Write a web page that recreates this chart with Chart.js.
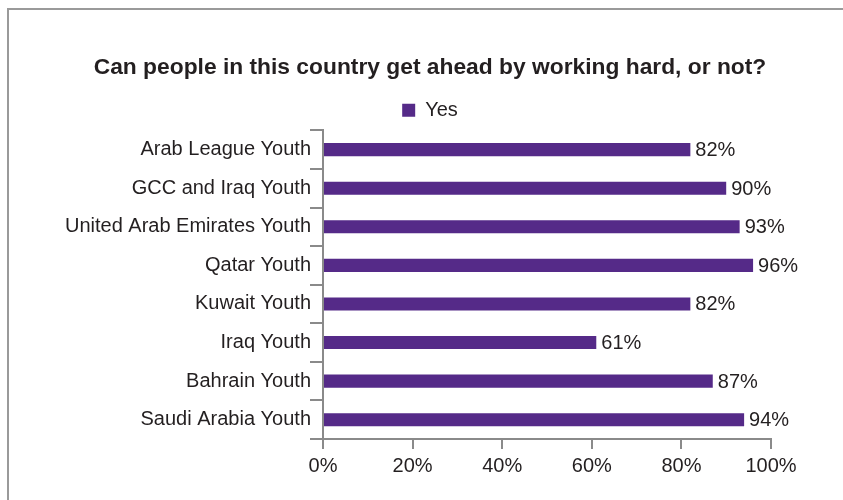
<!DOCTYPE html>
<html>
<head>
<meta charset="utf-8">
<script src="https://cdn.jsdelivr.net/npm/chart.js@4.4.1/dist/chart.umd.min.js"></script>
<style>
  html, body { margin: 0; padding: 0; background: #fff; }
  #wrap { position: relative; width: 843px; height: 500px; }
  #frame { position: absolute; left: 7px; top: 8px; right: 0; bottom: 0;
           border-top: 2px solid #9a9a9a; border-left: 2px solid #9a9a9a; }
  canvas { position: absolute; left: 0; top: 0; }
</style>
</head>
<body>
<div id="wrap">
  <div id="frame"></div>
  <canvas id="chart" width="843" height="500"></canvas>
</div>
<script>
const categories = [
  "Arab League Youth",
  "GCC and Iraq Youth",
  "United Arab Emirates Youth",
  "Qatar Youth",
  "Kuwait Youth",
  "Iraq Youth",
  "Bahrain Youth",
  "Saudi Arabia Youth"
]
const yesValues = [82, 90, 93, 96, 82, 61, 87, 94]
const xTicks = [0, 20, 40, 60, 80, 100]

const fontFamily = "'Liberation Sans', Arial, Helvetica, sans-serif"
const purple = "#552a88"
const padLeft = 89

// value labels at the end of each bar
const barLabels = {
  id: "barLabels",
  afterDatasetsDraw(chart) {
    const ctx = chart.ctx
    const meta = chart.getDatasetMeta(0)
    ctx.save()
    ctx.font = "20px " + fontFamily
    ctx.fillStyle = "#231f20"
    ctx.textAlign = "left"
    ctx.textBaseline = "middle"
    meta.data.forEach((bar, i) => {
      ctx.fillText(yesValues[i] + "%", bar.x + 5, bar.y + 1)
    })
    ctx.restore()
  }
}

new Chart(document.getElementById("chart"), {
  type: "bar",
  data: {
    labels: categories,
    datasets: [{
      label: "Yes",
      data: yesValues,
      backgroundColor: purple,
      barPercentage: 0.34,
      categoryPercentage: 1
    }]
  },
  plugins: [barLabels],
  options: {
    indexAxis: "y",
    responsive: false,
    animation: false,
    // left padding shifts the title and legend centre to match the picture
    layout: { padding: { top: 54, right: 72, bottom: 17, left: padLeft } },
    plugins: {
      title: {
        display: true,
        text: "Can people in this country get ahead by working hard, or not?",
        color: "#231f20",
        font: { family: fontFamily, size: 22.8, weight: "bold" },
        padding: { top: 0, bottom: 1 }
      },
      legend: {
        display: true,
        labels: {
          color: "#231f20",
          font: { family: fontFamily, size: 20 },
          boxWidth: 13,
          boxHeight: 13,
          padding: 18
        }
      },
      tooltip: { enabled: false }
    },
    scales: {
      x: {
        min: 0,
        max: 100,
        afterBuildTicks(axis) { axis.ticks = xTicks.map(v => ({ value: v })) },
        border: { color: "#8a8a8a", width: 2 },
        grid: { drawOnChartArea: false, color: "#8a8a8a", lineWidth: 2, tickLength: 10 },
        ticks: {
          color: "#231f20",
          font: { family: fontFamily, size: 20 },
          padding: 5,
          callback: v => v + "%"
        }
      },
      y: {
        afterFit(axis) {
          axis.width = 323 - padLeft
          // long labels reach into the left padding, so don't clip them
          axis._computeLabelArea = () => null
        },
        border: { color: "#8a8a8a", width: 2 },
        grid: { drawOnChartArea: false, offset: true, color: "#8a8a8a", lineWidth: 2, tickLength: 13 },
        ticks: {
          color: "#231f20",
          font: { family: fontFamily, size: 20 },
          padding: -1
        }
      }
    }
  }
})
</script>
</body>
</html>
